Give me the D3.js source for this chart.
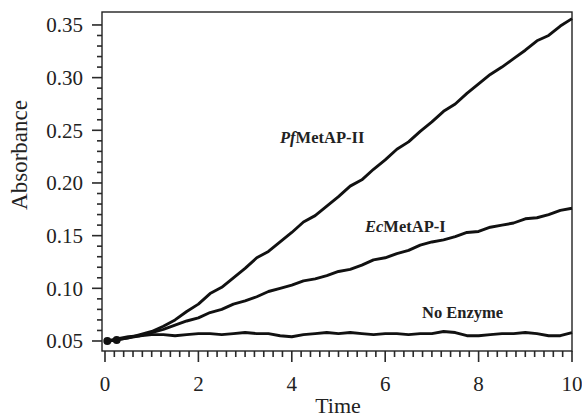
<!DOCTYPE html>
<meta charset="utf-8">
<script src="https://d3js.org/d3.v7.min.js"></script>
<style>
body {
  margin: 0;
  background-color: #fff;
}
text {
  font-family: "Liberation Serif", "Times New Roman", serif;
  fill: #222;
}
.frame { fill: none; stroke: #222; stroke-width: 1.4px; }
.tk { fill: #2a2a2a; }
.line { fill: none; stroke: #111; stroke-width: 2.9px; stroke-linejoin: round; }
.lbl { font-weight: bold; font-size: 16.5px; }
</style>
<body>
<div id="chart"></div>
</body>
<script>
var times = [0.05, 0.25, 0.5, 0.75, 1.0, 1.25, 1.5, 1.75, 2.0, 2.25, 2.5, 2.75, 3.0, 3.25, 3.5, 3.75,
             4.0, 4.25, 4.5, 4.75, 5.0, 5.25, 5.5, 5.75, 6.0, 6.25, 6.5, 6.75, 7.0, 7.25, 7.5, 7.75,
             8.0, 8.25, 8.5, 8.75, 9.0, 9.25, 9.5, 9.75, 10.0];

var pfMetAP2 = [0.050, 0.051, 0.053, 0.056, 0.059, 0.064, 0.070, 0.078, 0.085, 0.095, 0.101, 0.110, 0.119, 0.129, 0.135, 0.144,
                0.153, 0.163, 0.169, 0.178, 0.187, 0.197, 0.203, 0.213, 0.222, 0.232, 0.239, 0.249, 0.258, 0.268, 0.275, 0.285,
                0.294, 0.303, 0.310, 0.318, 0.326, 0.335, 0.340, 0.349, 0.356];

var ecMetAP1 = [0.050, 0.051, 0.053, 0.055, 0.058, 0.061, 0.065, 0.069, 0.072, 0.077, 0.080, 0.085, 0.088, 0.092, 0.097, 0.100,
                0.103, 0.107, 0.109, 0.112, 0.116, 0.118, 0.122, 0.127, 0.129, 0.133, 0.136, 0.141, 0.144, 0.146, 0.149, 0.153,
                0.154, 0.158, 0.160, 0.162, 0.166, 0.167, 0.170, 0.174, 0.176];

var noEnzyme = [0.050, 0.052, 0.054, 0.055, 0.056, 0.056, 0.055, 0.056, 0.057, 0.057, 0.056, 0.057, 0.058, 0.057, 0.057, 0.055,
                0.054, 0.056, 0.057, 0.058, 0.057, 0.058, 0.057, 0.056, 0.057, 0.057, 0.056, 0.057, 0.057, 0.059, 0.058, 0.055,
                0.055, 0.056, 0.057, 0.057, 0.058, 0.057, 0.055, 0.055, 0.058];

var xTicks = [0, 2, 4, 6, 8, 10];
var yTicks = [0.05, 0.10, 0.15, 0.20, 0.25, 0.30, 0.35];

var width = 582, height = 418;

var svg = d3.select("#chart").append("svg")
    .attr("width", width)
    .attr("height", height);

var x = d3.scaleLinear().domain([-0.064, 10]).range([102, 572]);
var y = d3.scaleLinear().domain([0.0405, 0.3623]).range([351, 12]);

var x0 = x.range()[0], yb = y.range()[0];

var xMinor = d3.range(0, 51).map(function(i) { return i * 0.2; });
var yMinor = d3.range(5, 36).map(function(i) { return i / 100; });

// tick marks pointing outward, as thin filled bars
svg.selectAll(".xtk")
    .data(xMinor)
    .enter().append("rect")
    .attr("class", "tk")
    .attr("x", function(d) { return x(d) - 0.8; })
    .attr("y", yb)
    .attr("width", 1.6)
    .attr("height", function(d, i) { return i % 10 === 0 ? 11 : 6; });

svg.selectAll(".ytk")
    .data(yMinor)
    .enter().append("rect")
    .attr("class", "tk")
    .attr("x", function(d, i) { return x0 - (i % 5 === 0 ? 10 : 5); })
    .attr("y", function(d) { return y(d) - 0.8; })
    .attr("width", function(d, i) { return i % 5 === 0 ? 10 : 5; })
    .attr("height", 1.6);

svg.selectAll(".xlab")
    .data(xTicks)
    .enter().append("text")
    .attr("x", function(d) { return x(d); })
    .attr("y", 391)
    .attr("text-anchor", "middle")
    .style("font-size", "21px")
    .text(d3.format("d"));

svg.selectAll(".ylab")
    .data(yTicks)
    .enter().append("text")
    .attr("x", 83)
    .attr("y", function(d) { return y(d); })
    .attr("dy", "0.35em")
    .attr("text-anchor", "end")
    .style("font-size", "21px")
    .text(d3.format(".2f"));

svg.append("rect")
    .attr("class", "frame")
    .attr("x", x0)
    .attr("y", y.range()[1])
    .attr("width", x.range()[1] - x0)
    .attr("height", yb - y.range()[1]);

svg.append("text")
    .attr("x", 338)
    .attr("y", 413)
    .attr("text-anchor", "middle")
    .style("font-size", "22px")
    .text("Time");

svg.append("text")
    .attr("transform", "translate(27,155) rotate(-90)")
    .attr("text-anchor", "middle")
    .style("font-size", "23px")
    .text("Absorbance");

var line = d3.line()
    .x(function(d, i) { return x(times[i]); })
    .y(function(d) { return y(d); });

[noEnzyme, ecMetAP1, pfMetAP2].forEach(function(s) {
  svg.append("path")
      .datum(s)
      .attr("class", "line")
      .attr("d", line);
});

// blob of overlapping points at the start
svg.selectAll(".dot")
    .data([0, 1])
    .enter().append("circle")
    .attr("cx", function(i) { return x(times[i]); })
    .attr("cy", function(i) { return y(pfMetAP2[i]); })
    .attr("r", 4)
    .style("fill", "#111");

function label(it, rest, px, py) {
  var t = svg.append("text").attr("class", "lbl").attr("x", px).attr("y", py);
  if (it) t.append("tspan").style("font-style", "italic").text(it);
  t.append("tspan").text(rest);
}
label("Pf", "MetAP-II", 280, 143);
label("Ec", "MetAP-I", 365, 232);
label("", "No Enzyme", 422, 318);
</script>
